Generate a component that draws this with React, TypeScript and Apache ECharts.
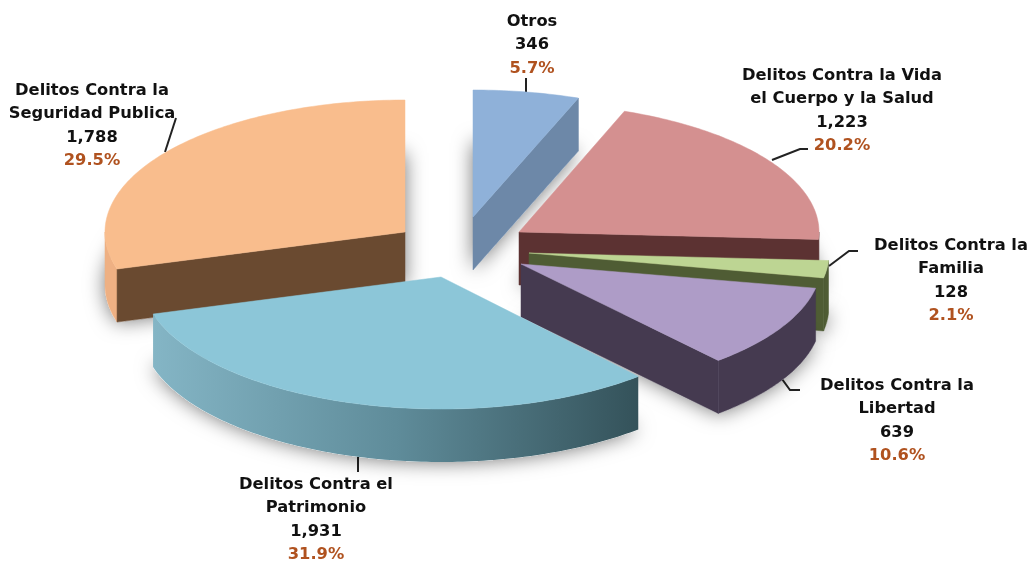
import React, { useEffect, useRef } from "react";
import * as echarts from "echarts";

const categories = ["Otros", "Delitos Contra la Vida el Cuerpo y la Salud", "Delitos Contra la Familia", "Delitos Contra la Libertad", "Delitos Contra el Patrimonio", "Delitos Contra la Seguridad Publica"];
const values = [346, 1223, 128, 639, 1931, 1788];
const valueLabels = ["346", "1,223", "128", "639", "1,931", "1,788"];
const pctLabels = ["5.7%", "20.2%", "2.1%", "10.6%", "31.9%", "29.5%"];
const nameLines = [["Otros"], ["Delitos Contra la Vida", "el Cuerpo y la Salud"], ["Delitos Contra la", "Familia"], ["Delitos Contra la", "Libertad"], ["Delitos Contra el", "Patrimonio"], ["Delitos Contra la", "Seguridad Publica"]];

// layout
const RX = 300, DEPTH = 53;
const radiiY = [127, 129, 132, 128, 132, 132];
const apexes = [[473, 217], [519, 232], [529, 253], [521, 264], [441, 277], [405, 232]];
const topColors = ["#8fb1d9", "#d49090", "#bdd593", "#ae9cc7", "#8cc6d8", "#f9bd8d"];
const radialWallColors = ["#6d88a8", "#5c3232", "#4f5c34", "#453a50", "#3d5a62", "#6a4a30"];
const outerWallColors: any[] = [
  "#6d88a8", "#5c3232", "#4f5c34", "#453a50",
  { type: "linear", x: 0, y: 0, x2: 1, y2: 0, colorStops: [{ offset: 0, color: "#84b5c5" }, { offset: 0.5, color: "#5f8c9a" }, { offset: 1, color: "#34525a" }] },
  "#eeb083",
];
const drawOrder = [0, 5, 1, 2, 3, 4];
const labelBoxes = [[532, 20], [842, 74], [951, 244], [897, 384], [316, 483], [92, 89]];
const leaders = [
  [[526, 78], [526, 92]],
  [[772, 160], [800, 149], [808, 149]],
  [[829, 266], [849, 251], [858, 251]],
  [[782, 379], [790, 390], [800, 390]],
  [[358, 456], [358, 472]],
  [[176, 118], [165, 152]],
];

const total = values.reduce((a, b) => a + b, 0);
const starts: number[] = [];
values.reduce((acc, v, i) => { starts[i] = acc; return acc + (v / total) * 360; }, 0);
const ends = values.map((v, i) => starts[i] + (v / total) * 360);

function pt(i: number, deg: number, dy = 0) {
  const r = (deg * Math.PI) / 180;
  return [apexes[i][0] + RX * Math.sin(r), apexes[i][1] - radiiY[i] * Math.cos(r) + dy];
}
function arc(i: number, a: number, b: number, dy = 0) {
  const out: number[][] = [];
  const n = Math.max(2, Math.ceil(Math.abs(b - a)));
  for (let k = 0; k <= n; k++) out.push(pt(i, a + ((b - a) * k) / n, dy));
  return out;
}

function renderSlice(_: any, api: any) {
  const i = api.value(0) as number;
  const s = starts[i], e = ends[i];
  const [ax, ay] = apexes[i];
  const poly = (points: number[][], fill: any, extra: any = {}) => ({
    type: "polygon",
    shape: { points },
    style: { fill, stroke: typeof fill === "string" ? fill : "#5f8c9a", lineWidth: typeof fill === "string" ? 0.5 : 0, ...extra },
  });
  const children: any[] = [];
  children.push(poly([[ax, ay + DEPTH], ...arc(i, s, e, DEPTH)], "#ffffff", { shadowBlur: 20, shadowColor: "rgba(0,0,0,0.55)", stroke: "none" }));
  const lo = Math.max(s, 90), hi = Math.min(e, 270);
  if (hi > lo) {
    children.push(poly([...arc(i, lo, hi), ...arc(i, lo, hi, DEPTH).reverse()], outerWallColors[i]));
  }
  if (e < 180) {
    const p = pt(i, e);
    children.push(poly([[ax, ay], p, [p[0], p[1] + DEPTH], [ax, ay + DEPTH]], radialWallColors[i]));
  }
  if (s > 180) {
    const p = pt(i, s);
    children.push(poly([[ax, ay], p, [p[0], p[1] + DEPTH], [ax, ay + DEPTH]], radialWallColors[i]));
  }
  children.push(poly([[ax, ay], ...arc(i, s, e)], topColors[i]));
  return { type: "group", children };
}

const FONT = "'DejaVu Sans', sans-serif";
const FONT_SIZE = 16.3;
function labelGraphics() {
  const out: any[] = [];
  categories.forEach((_, i) => {
    const [x, y0] = labelBoxes[i];
    const lines = [...nameLines[i], valueLabels[i]];
    lines.forEach((t, k) => {
      out.push({ type: "text", x, y: y0 + k * 23.5, style: { text: t, fill: "#111111", font: `bold ${FONT_SIZE}px ${FONT}`, textAlign: "center", textVerticalAlign: "middle" } });
    });
    out.push({ type: "text", x, y: y0 + lines.length * 23.5, style: { text: pctLabels[i], fill: "#b0521f", font: `bold ${FONT_SIZE}px ${FONT}`, textAlign: "center", textVerticalAlign: "middle" } });
    out.push({ type: "polyline", shape: { points: leaders[i] }, style: { stroke: "#222222", lineWidth: 2, fill: "none" } });
  });
  return out;
}

export default function App() {
  const ref = useRef<HTMLDivElement>(null);
  useEffect(() => {
    const chart = echarts.init(ref.current!, undefined, { renderer: "svg" });
    chart.setOption({
      animation: false,
      backgroundColor: "#ffffff",
      series: [{
        type: "custom",
        coordinateSystem: "none",
        renderItem: renderSlice,
        data: drawOrder.map((i) => ({ name: categories[i], value: [i, values[i]] })),
        encode: { value: 1 },
        silent: true,
      }],
      graphic: labelGraphics(),
    });
    return () => chart.dispose();
  }, []);
  return <div ref={ref} style={{ position: "fixed", left: 0, top: 0, width: 1032, height: 564, filter: "blur(0.4px)" }} />;
}
